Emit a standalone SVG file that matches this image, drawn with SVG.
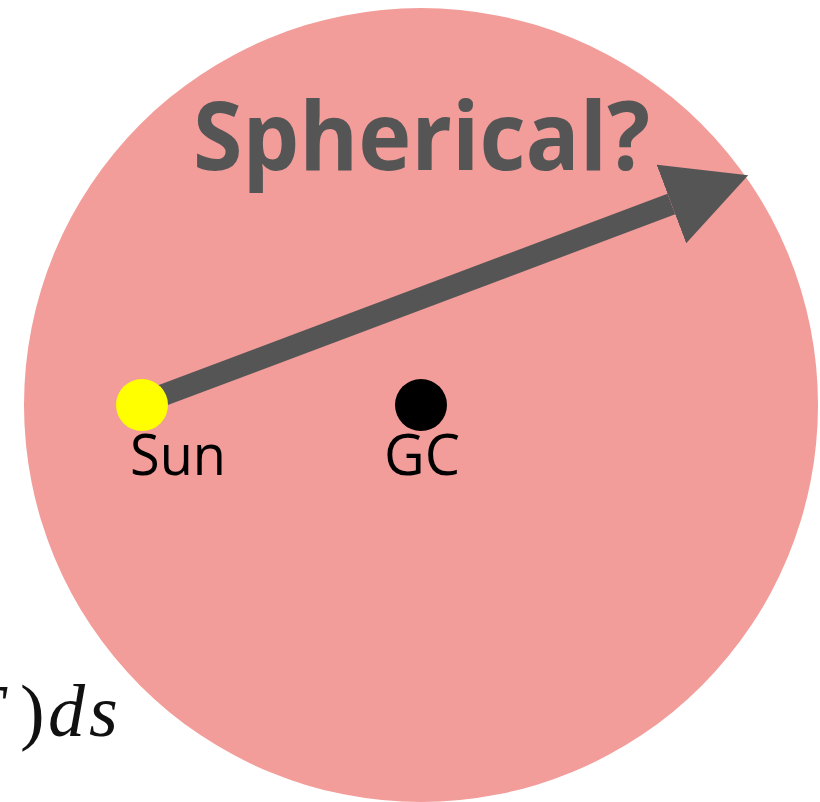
<svg xmlns="http://www.w3.org/2000/svg" width="820" height="802" viewBox="0 0 820 802">
  <style>
    .lbl { font-family: "Open Sans", "Liberation Sans", sans-serif; font-size: 56px; fill: #000; }
    .title { font-family: "Open Sans", "Liberation Sans", sans-serif; font-size: 95px; font-weight: bold; fill: #555555; }
    .math { font-family: "Liberation Serif", "DejaVu Serif", serif; font-size: 74px; fill: #111; }
  </style>
  <defs>
    <marker id="head" markerUnits="userSpaceOnUse" viewBox="0 0 82 84" refX="0" refY="42" markerWidth="82" markerHeight="84" orient="auto">
      <path d="M0,0 L82,42 L0,84 Z" fill="#555555"/>
    </marker>
  </defs>
  <rect width="820" height="802" fill="#ffffff"/>
  <g id="math-text">
    <text class="math" y="736"><tspan x="-38" font-style="italic">T</tspan><tspan x="20">)</tspan><tspan x="48" font-style="italic">d</tspan><tspan x="89" font-style="italic">s</tspan></text>
  </g>
  <g id="sphere">
    <circle cx="421" cy="405" r="397" fill="#F29D9A"/>
  </g>
  <g id="title">
    <text class="title" x="193" y="170" textLength="457" lengthAdjust="spacingAndGlyphs">Spherical?</text>
  </g>
  <g id="connectors">
    <line x1="150" y1="400" x2="671.4" y2="204" stroke="#555555" stroke-width="22" marker-end="url(#head)"/>
  </g>
  <g id="sun">
    <circle cx="142" cy="405" r="26" fill="#FFFF00"/>
    <text class="lbl" x="130" y="475" textLength="96" lengthAdjust="spacingAndGlyphs">Sun</text>
  </g>
  <g id="gc">
    <circle cx="421" cy="405" r="26" fill="#000000"/>
    <text class="lbl" x="422" y="475" text-anchor="middle">GC</text>
  </g>
</svg>
